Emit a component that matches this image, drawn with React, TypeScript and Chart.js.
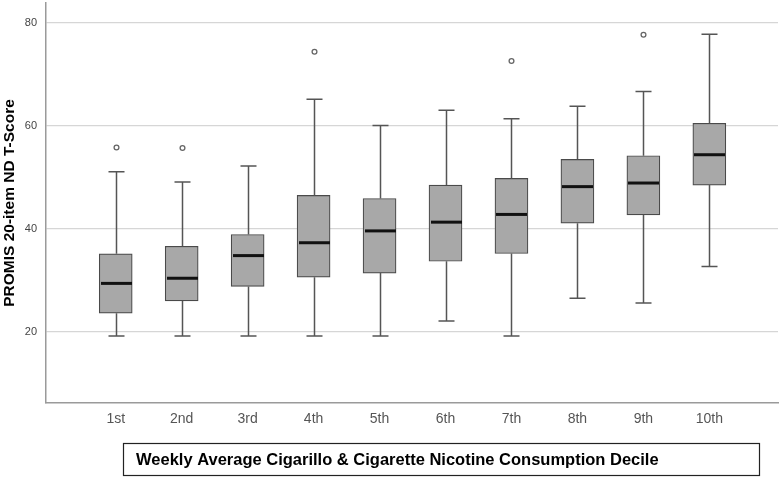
import React, { useEffect, useRef } from "react";
import { Chart, registerables } from "chart.js";

Chart.register(...registerables);

const categories = ["1st", "2nd", "3rd", "4th", "5th", "6th", "7th", "8th", "9th", "10th"];
const lowerWhisker = [19.2, 19.2, 19.2, 19.2, 19.2, 22.1, 19.2, 26.5, 25.6, 32.7];
const q1 = [23.6, 26.0, 28.8, 30.6, 31.4, 33.7, 35.2, 41.1, 42.7, 48.5];
const median = [29.4, 30.4, 34.8, 37.3, 39.6, 41.3, 42.8, 48.2, 48.9, 54.4];
const q3 = [35.15, 36.6, 38.9, 46.5, 45.9, 48.5, 49.8, 53.5, 54.2, 60.5];
const upperWhisker = [51.1, 49.1, 52.2, 65.2, 60.1, 63.05, 61.4, 63.8, 66.7, 77.8];
const outliers: number[][] = [[55.8], [55.7], [], [74.4], [], [], [72.6], [], [77.7], []];
const yTicks = [20, 40, 60, 80];

const yTitle = "PROMIS 20-item ND T-Score";
const xTitle = "Weekly Average Cigarillo & Cigarette Nicotine Consumption Decile";

const FONT = "'Liberation Sans', Arial, sans-serif";

const boxExtras = {
  id: "boxExtras",
  afterDatasetsDraw(chart: any) {
    const { ctx, scales } = chart;
    const x = scales.x;
    const y = scales.y;
    ctx.save();
    const half = 16.5;
    const cap = 8;
    categories.forEach((_, i) => {
      const cx = Math.round(x.getPixelForValue(i + 1)) + 0.5;
      ctx.strokeStyle = "#555555";
      ctx.lineWidth = 1.5;
      ctx.beginPath();
      ctx.moveTo(cx, y.getPixelForValue(q3[i]));
      ctx.lineTo(cx, y.getPixelForValue(upperWhisker[i]));
      ctx.moveTo(cx - cap, y.getPixelForValue(upperWhisker[i]));
      ctx.lineTo(cx + cap, y.getPixelForValue(upperWhisker[i]));
      ctx.moveTo(cx, y.getPixelForValue(q1[i]));
      ctx.lineTo(cx, y.getPixelForValue(lowerWhisker[i]));
      ctx.moveTo(cx - cap, y.getPixelForValue(lowerWhisker[i]));
      ctx.lineTo(cx + cap, y.getPixelForValue(lowerWhisker[i]));
      ctx.stroke();

      ctx.strokeStyle = "#111111";
      ctx.lineWidth = 3;
      ctx.beginPath();
      const my = y.getPixelForValue(median[i]);
      ctx.moveTo(cx - half + 1, my);
      ctx.lineTo(cx + half - 1, my);
      ctx.stroke();

      outliers[i].forEach((v) => {
        ctx.beginPath();
        ctx.arc(cx, y.getPixelForValue(v), 2.4, 0, Math.PI * 2);
        ctx.fillStyle = "#ffffff";
        ctx.fill();
        ctx.strokeStyle = "#666666";
        ctx.lineWidth = 1.3;
        ctx.stroke();
      });
    });
    ctx.restore();
  },
  afterDraw(chart: any) {
    const { ctx } = chart;
    ctx.save();
    ctx.strokeStyle = "#222222";
    ctx.lineWidth = 1.2;
    ctx.strokeRect(123.5, 443.5, 636, 32);
    ctx.fillStyle = "#000000";
    ctx.font = `bold 16.5px ${FONT}`;
    ctx.textBaseline = "middle";
    ctx.textAlign = "left";
    ctx.fillText(xTitle, 136, 460);
    ctx.restore();
  },
};

export default function App() {
  const ref = useRef<HTMLCanvasElement>(null);
  useEffect(() => {
    if (!ref.current) return;
    const chart = new Chart(ref.current, {
      type: "bar",
      data: {
        datasets: [
          {
            data: categories.map((_, i) => ({ x: i + 1, y: [q1[i], q3[i]] })) as any,
            backgroundColor: "#a8a8a8",
            borderColor: "#4a4a4a",
            borderWidth: 1.2,
            borderSkipped: false,
            barThickness: 33,
          },
        ],
      },
      options: {
        responsive: false,
        animation: false,
        devicePixelRatio: 1,
        layout: { padding: { top: 3, right: 4, left: 0, bottom: 0 } },
        plugins: { legend: { display: false }, tooltip: { enabled: false } },
        scales: {
          x: {
            type: "linear",
            offset: false,
            min: -0.057,
            max: 11.041,
            grid: { display: false, drawTicks: false, offset: false },
            border: { display: true, color: "#9a9a9a", width: 1.5 },
            afterBuildTicks: (s: any) => {
              s.ticks = categories.map((_, i) => ({ value: i + 1 }));
            },
            afterFit: (s: any) => {
              s.height = 75;
              s.paddingLeft = 0;
              s.paddingRight = 0;
            },
            ticks: {
              padding: 8,
              color: "#555555",
              font: { family: FONT, size: 14 },
              autoSkip: false,
              maxRotation: 0,
              callback: (v: any) => categories[Math.round(v) - 1] ?? "",
            },
          },
          y: {
            type: "linear",
            min: 6.16,
            max: 83.88,
            grid: { color: "#d6d6d6", lineWidth: 1.2, drawTicks: false },
            border: { display: true, color: "#9a9a9a", width: 1.5 },
            afterBuildTicks: (s: any) => {
              s.ticks = yTicks.map((v) => ({ value: v }));
            },
            afterFit: (s: any) => {
              s.width = 46;
              s.paddingTop = 0;
              s.paddingBottom = 0;
            },
            ticks: {
              padding: 9,
              color: "#444444",
              font: { family: FONT, size: 11 },
            },
            title: {
              display: true,
              text: yTitle,
              color: "#000000",
              font: { family: FONT, size: 15.5, weight: "bold" },
              padding: { top: 0, bottom: 0 },
            },
          },
        },
      },
      plugins: [boxExtras],
    });
    return () => chart.destroy();
  }, []);
  return (
    <div style={{ position: "absolute", left: 0, top: 0, width: 782, height: 478, background: "#fff" }}>
      <canvas ref={ref} width={782} height={478} style={{ display: "block" }} />
    </div>
  );
}
